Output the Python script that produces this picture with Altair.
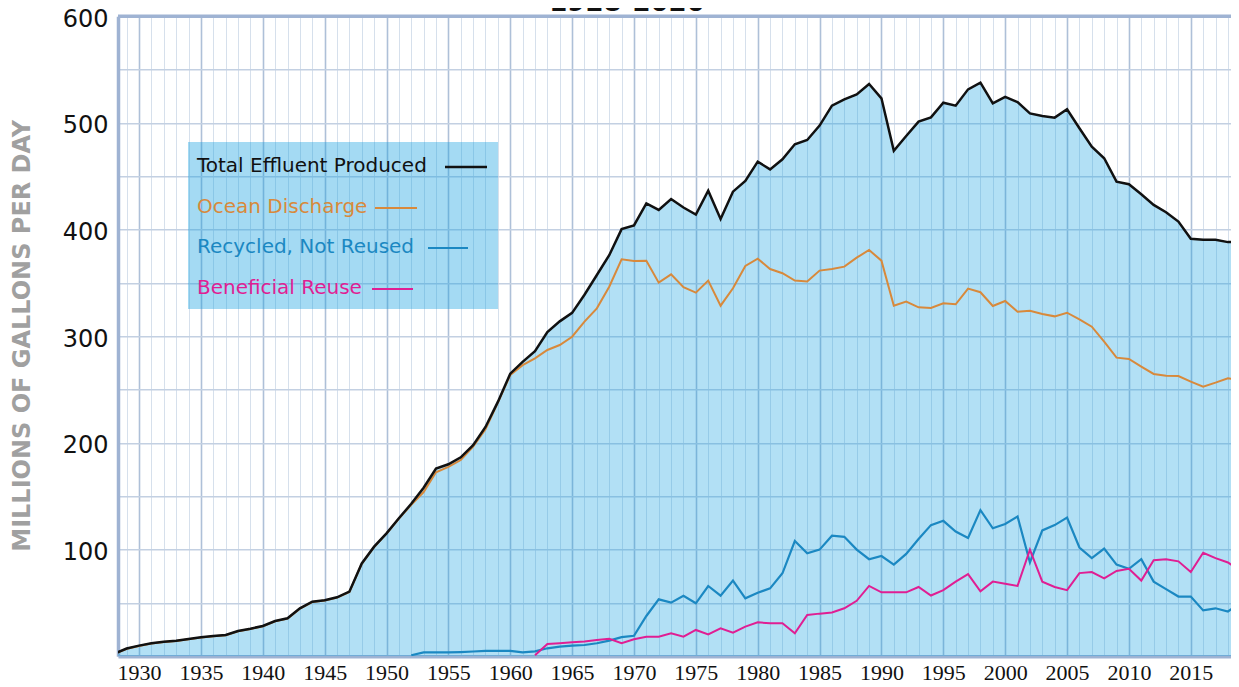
import altair as alt
import pandas as pd

# ---------------- data ----------------
years = list(range(1928, 2020))

total_effluent = [
    2.5, 7.3, 10, 12.2, 13.7, 14.6, 16.2, 17.8, 19, 20,
    23.7, 25.9, 28.4, 33.1, 35.6, 45, 51.2, 52.5, 55.3, 60.6,
    87, 102.8, 115.3, 129.4, 143, 158, 176, 180, 186.5, 198,
    215, 238.5, 265, 276, 286, 304, 314, 322, 339, 357.5,
    376, 400.5, 404, 424.5, 418.5, 428.7, 420.7, 414.2, 436.5, 410,
    435.6, 445.6, 463.7, 456.5, 465.9, 480, 484, 497.5, 516.2, 522.1,
    526.8, 536.5, 523.1, 474, 487.8, 501.2, 505.3, 519, 516.2, 531.5,
    537.8, 518.3, 524.5, 519.5, 509, 506.6, 505, 512.8, 495, 477.8,
    466.9, 445, 442.6, 433.2, 423.2, 416.3, 407.6, 391.4, 390.5, 390.5,
    388.3, 388.3,
]

ocean_discharge = [
    2.2, 7, 9.7, 11.9, 13.4, 14.3, 15.9, 17.5, 18.7, 19.7,
    23.4, 25.6, 28.1, 32.8, 35.3, 44.7, 50.9, 52.2, 55, 60.3,
    86.7, 102.5, 115, 129, 142, 154, 172.5, 177.5, 184, 196.5,
    212.8, 237.8, 263.7, 273, 279.4, 287.2, 291.8, 299.6, 313.7, 326.2,
    346.5, 372.2, 370.6, 370.9, 350.3, 358.1, 346, 340.9, 352.2, 328.7,
    345, 365.9, 372.8, 363.1, 359.1, 352.2, 351.3, 361.6, 363.1, 365.3,
    373.7, 380.9, 370.9, 328.7, 332.5, 327.2, 326.5, 330.9, 330, 344.7,
    341.3, 328.4, 333.1, 323.1, 324, 320.9, 318.7, 322.1, 315.9, 309,
    294.9, 280, 278.8, 271.6, 264.7, 263.1, 262.8, 257.5, 252.8, 256.6,
    260.7, 259.1,
]

recycled_years = list(range(1952, 2020))
recycled_not_reused = [
    1, 3.7, 3.7, 3.7, 4, 4.5, 5, 5, 5, 3.6,
    4.6, 7.5, 9.1, 10, 10.6, 12.2, 14.7, 17.9, 19.2, 37.8,
    53.4, 50.3, 56.8, 49.7, 65.9, 56.8, 70.9, 54.4, 59.6, 63.7,
    77.8, 108.1, 96.5, 100, 113, 112, 100, 91, 94, 86,
    96, 110, 123, 127, 117, 111, 137, 120, 124, 131,
    88, 118, 123, 130, 102, 92, 101, 86, 82, 91,
    70, 63, 56, 56, 43, 45, 42, 50,
]

reuse_years = list(range(1962, 2020))
beneficial_reuse = [
    1, 11.5, 12.2, 13.1, 13.8, 15.3, 16.5, 12.2, 15.9, 18.4,
    18.4, 21.5, 18.4, 24.7, 20.6, 26.2, 22.1, 27.8, 31.9, 30.9,
    30.9, 21.5, 38.7, 40, 41, 45, 52, 66, 60, 60,
    60, 65, 57, 62, 70, 77, 61, 70, 68, 66,
    100, 70, 65, 62, 78, 79, 73, 80, 82, 71,
    90, 91, 89, 79, 97, 92, 88, 80,
]

series_names = ["Total Effluent Produced", "Ocean Discharge",
                "Recycled, Not Reused", "Beneficial Reuse"]
series_colors = ["#111111", "#D8893B", "#1B88C2", "#E01E93"]
title_text = "1928-2020"
y_title = "MILLIONS OF GALLONS PER DAY"

# ---------------- tables ----------------
df_total = pd.DataFrame({"year": years, "value": total_effluent})
df_ocean = pd.DataFrame({"year": years, "value": ocean_discharge})
df_recycled = pd.DataFrame({"year": recycled_years, "value": recycled_not_reused})
df_reuse = pd.DataFrame({"year": reuse_years, "value": beneficial_reuse})

W, H = 1113, 640
FONT = "DejaVu Sans"

x_enc = alt.X(
    "year:Q",
    scale=alt.Scale(domain=[1928.3, 2018.25], nice=False, zero=False),
    axis=alt.Axis(
        title=None,
        values=list(range(1929, 2019)),
        format="d",
        labelExpr="datum.value % 5 === 0 ? datum.label : ''",
        labelOverlap=False,
        labelFlush=False,
        labelFont="Liberation Sans Narrow",
        labelFontSize=22,
        labelColor="#111111",
        labelPadding=6,
        ticks=False,
        domainColor="#9FB3D3",
        domainWidth=3.5,
        gridColor={"condition": {"test": "datum.value % 5 === 0", "value": "#AEC0D8"},
                   "value": "#D6E0EC"},
        gridWidth={"condition": {"test": "datum.value % 5 === 0", "value": 1.6},
                   "value": 1},
    ),
)

y_enc = alt.Y(
    "value:Q",
    scale=alt.Scale(domain=[0, 600], nice=False),
    axis=alt.Axis(
        title=y_title,
        titleFont=FONT,
        titleFontSize=24,
        titleFontWeight="bold",
        titleColor="#A0A0A0",
        titleAngle=270,
        titleX=-96,
        titleY=H / 2 - 1,
        titleAlign="center",
        titleBaseline="middle",
        values=list(range(0, 601, 50)),
        labelExpr="datum.value % 100 === 0 && datum.value > 0 ? datum.label : ''",
        labelFont=FONT,
        labelFontSize=24,
        labelColor="#111111",
        labelPadding=10,
        labelOffset=3,
        ticks=False,
        domainColor="#9FB3D3",
        domainWidth=3.5,
        gridColor="#C3D0E2",
        gridWidth=1.5,
    ),
)

area = alt.Chart(df_total).mark_area(
    color="#119EE0", opacity=0.32, clip=True
).encode(x=x_enc, y=y_enc)


def line_layer(df, color, width):
    return alt.Chart(df).mark_line(
        color=color, strokeWidth=width, clip=True, strokeJoin="miter"
    ).encode(x=x_enc, y=y_enc)


lines = [
    line_layer(df_ocean, series_colors[1], 2),
    line_layer(df_recycled, series_colors[2], 2.2),
    line_layer(df_reuse, series_colors[3], 2),
    line_layer(df_total, series_colors[0], 2.5),
]

one = pd.DataFrame({"k": [0]})

top_border = alt.Chart(one).mark_rule(color="#9FB3D3", strokeWidth=3.5).encode(
    y=alt.value(0)
)

# legend box
legend_box = alt.Chart(one).mark_rect(color="#119EE0", opacity=0.38).encode(
    x=alt.value(70), x2=alt.value(380), y=alt.value(125.7), y2=alt.value(292.7)
)

legend_layers = [legend_box]
text_y = [149.7, 190.7, 230.7, 271.7]
sample_x = [(327, 369), (257, 299), (310, 350), (254, 295)]
for i, (name, col) in enumerate(zip(series_names, series_colors)):
    legend_layers.append(
        alt.Chart(one).mark_text(
            text=name, font=FONT, fontSize=20, color=col,
            align="left", baseline="middle"
        ).encode(x=alt.value(79), y=alt.value(text_y[i]))
    )
    legend_layers.append(
        alt.Chart(one).mark_rule(color=col, strokeWidth=2.5 if i == 0 else 2).encode(
            x=alt.value(sample_x[i][0]), x2=alt.value(sample_x[i][1]),
            y=alt.value(text_y[i] + 1)
        )
    )

title_mark = alt.Chart(one).mark_text(
    text=title_text, font=FONT, fontSize=26, fontWeight="bold", color="#111111",
    align="center", baseline="alphabetic"
).encode(x=alt.value(509), y=alt.value(-5))

chart = alt.layer(
    area, top_border, *legend_layers, *lines, title_mark
).properties(
    width=W, height=H,
    autosize=alt.AutoSizeParams(type="none"),
    padding={"left": 110, "top": 8.3, "right": 0, "bottom": 30},
).configure_view(stroke=None)

chart.save("out.html", embed_options={"renderer": "svg", "actions": False})
